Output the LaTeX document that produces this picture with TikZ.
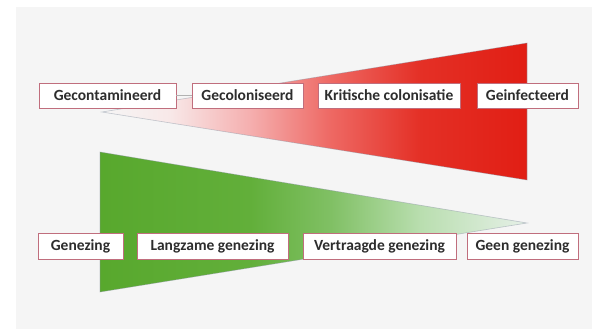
\documentclass[tikz,border=0pt]{standalone}
\usepackage{fontspec}
\setmainfont{Carlito}
\definecolor{bggray}{RGB}{245,245,245}
\definecolor{boxborder}{RGB}{192,110,125}
\definecolor{txtgray}{RGB}{45,45,45}
\definecolor{edgegray}{RGB}{140,150,165}
\pgfdeclarehorizontalshading{redfade}{100bp}{%
  color(0bp)=(bggray!96!white); color(25bp)=(bggray!96!white);
  color(33bp)=(rgb,255:red,248;green,232;blue,232);
  color(42.4bp)=(rgb,255:red,245;green,175;blue,175);
  color(51.8bp)=(rgb,255:red,238;green,105;blue,100);
  color(62.4bp)=(rgb,255:red,228;green,48;blue,38);
  color(75bp)=(rgb,255:red,225;green,30;blue,20);
  color(100bp)=(rgb,255:red,225;green,30;blue,20)}
\pgfdeclarehorizontalshading{greenfade}{100bp}{%
  color(0bp)=(rgb,255:red,88;green,168;blue,45);
  color(25bp)=(rgb,255:red,88;green,168;blue,45);
  color(42.6bp)=(rgb,255:red,98;green,175;blue,58);
  color(52bp)=(rgb,255:red,128;green,192;blue,100);
  color(62.5bp)=(rgb,255:red,185;green,222;blue,175);
  color(75bp)=(rgb,255:red,230;green,240;blue,232);
  color(100bp)=(rgb,255:red,230;green,240;blue,232)}
\tikzset{
  stagebox/.style={draw=boxborder, line width=0.8pt, fill=white, text=txtgray,
    font=\fontsize{15.5}{17}\selectfont\bfseries, inner sep=0pt, anchor=center},
  wedge/.style={draw=edgegray, draw opacity=0.5, line width=0.6pt},
  linker/.style={draw=gray!60, line width=0.6pt}
}
\begin{document}
\begin{tikzpicture}[x=1pt,y=-1pt]
\useasboundingbox (0,0) rectangle (592,329);
\fill[white] (0,0) rectangle (592,329);
\fill[bggray] (16,7) rectangle (592,329);
% red wedge
\shade[shading=redfade, wedge] (102,112) -- (527,43) -- (527,180) -- cycle;
% green wedge
\shade[shading=greenfade, wedge] (100,152) -- (527,223) -- (100,292) -- cycle;
% top row
\node[stagebox, minimum width=137pt, minimum height=25pt] (gc) at (107.5,95.5) {Gecontamineerd};
\node[stagebox, minimum width=111pt, minimum height=25pt] (gk) at (247.5,95.5) {Gecoloniseerd};
\node[stagebox, minimum width=142pt, minimum height=25pt] (kc) at (389,95.5) {Kritische colonisatie};
\node[stagebox, minimum width=101pt, minimum height=25pt] (gi) at (527.5,95.5) {Geinfecteerd};
% bottom row
\node[stagebox, minimum width=85pt, minimum height=26pt] (gz) at (80.5,246) {Genezing};
\node[stagebox, minimum width=151pt, minimum height=26pt] (lg) at (212.5,246) {Langzame genezing};
\node[stagebox, minimum width=153pt, minimum height=26pt] (vg) at (379.5,246) {Vertraagde genezing};
\node[stagebox, minimum width=111pt, minimum height=26pt] (ge) at (522.5,246) {Geen genezing};
\draw[linker] (gc.east) -- (gk.west);
\end{tikzpicture}
\end{document}
